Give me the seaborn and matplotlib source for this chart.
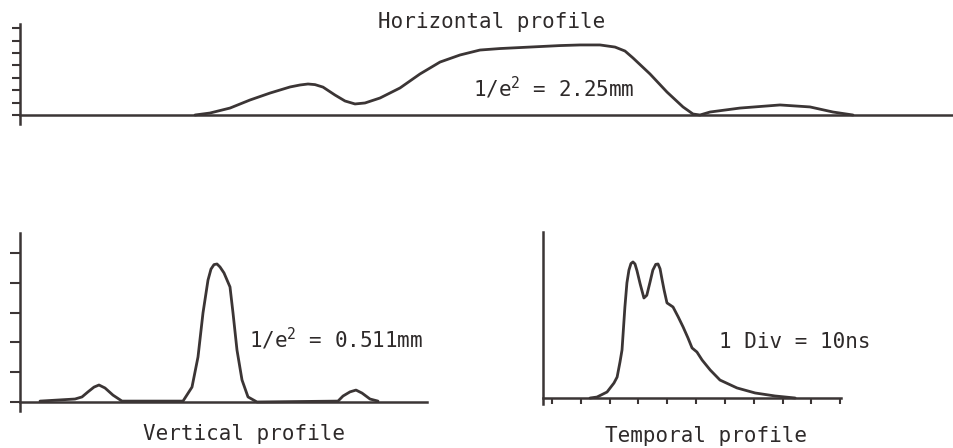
import matplotlib
matplotlib.use("Agg")
import matplotlib.pyplot as plt
import seaborn as sns

# horizontal profile (x in 0.1 div, y in tick units)
horiz_x = [17.5, 19.0, 21.0, 23.0, 25.0, 27.0, 28.0, 28.8, 29.5, 30.3, 31.5, 32.5,
           33.5, 34.5, 36.0, 38.0, 40.0, 42.0, 44.0, 46.0, 48.0, 50.0, 52.0, 54.0,
           56.0, 58.0, 59.5, 60.5, 61.3, 63.0, 64.7, 66.3, 67.3, 68.0, 69.0, 72.0,
           76.0, 79.0, 81.3, 83.3]
horiz_y = [0.0, 0.16, 0.56, 1.21, 1.77, 2.26, 2.42, 2.50, 2.45, 2.25, 1.61, 1.13,
           0.89, 0.97, 1.37, 2.18, 3.31, 4.27, 4.84, 5.24, 5.36, 5.44, 5.52, 5.60,
           5.65, 5.65, 5.48, 5.16, 4.60, 3.31, 1.85, 0.65, 0.08, 0.0, 0.24, 0.56,
           0.81, 0.65, 0.24, 0.0]

# vertical profile
vert_x = [2.0, 4.0, 5.5, 6.2, 6.8, 7.4, 7.9, 8.5, 9.3, 10.2, 16.3, 17.2, 17.8,
          18.3, 18.8, 19.1, 19.4, 19.7, 20.0, 20.4, 21.0, 21.3, 21.7, 22.2, 22.8,
          23.7, 31.8, 32.3, 33.0, 33.6, 34.2, 35.0, 35.8]
vert_y = [0.03, 0.07, 0.10, 0.17, 0.34, 0.50, 0.57, 0.47, 0.23, 0.03, 0.03, 0.50,
          1.51, 2.99, 4.09, 4.46, 4.61, 4.63, 4.53, 4.33, 3.86, 2.99, 1.74, 0.74,
          0.17, 0.0, 0.03, 0.20, 0.34, 0.40, 0.30, 0.10, 0.03]

# temporal profile (x in divisions of 10 ns)
temp_x = [1.32, 1.56, 1.91, 2.15, 2.26, 2.36, 2.43, 2.53, 2.60, 2.67, 2.74, 2.81,
          2.88, 2.95, 3.06, 3.19, 3.29, 3.40, 3.50, 3.60, 3.68, 3.75, 3.82, 3.89,
          3.99, 4.20, 4.38, 4.55, 4.72, 4.86, 5.03, 5.21, 5.49, 5.83, 6.42, 7.05,
          7.74, 8.44]
temp_y = [0.0, 0.07, 0.44, 1.10, 1.54, 2.65, 3.53, 6.69, 8.46, 9.40, 9.88, 10.0,
          9.85, 9.35, 8.38, 7.35, 7.55, 8.50, 9.40, 9.82, 9.85, 9.50, 8.70, 7.94,
          6.99, 6.69, 5.96, 5.22, 4.41, 3.68, 3.38, 2.79, 2.06, 1.32, 0.74, 0.37,
          0.15, 0.0]

horiz_ticks = list(range(8))
vert_ticks = list(range(6))
temp_ticks = list(range(11))

sns.set_style("white")
plt.rcParams["font.family"] = ["DejaVu Sans Mono"]
plt.rcParams["mathtext.default"] = "regular"

ink = "#3b3535"
W, H = 954, 448
fig = plt.figure(figsize=(W / 100, H / 100), dpi=100)


def px_axes(l, t, r, b):
    return fig.add_axes([l / W, 1 - b / H, (r - l) / W, (b - t) / H])


def style(ax, xticks, yticks, tick_len):
    sns.despine(ax=ax)
    ax.set_facecolor("none")
    ax.spines["bottom"].set_position(("data", 0))
    for s in ("left", "bottom"):
        ax.spines[s].set_color(ink)
        ax.spines[s].set_linewidth(1.8)
    ax.set_xticks(xticks)
    ax.set_yticks(yticks)
    ax.tick_params(direction="out", length=tick_len, width=1.5, color=ink,
                   left=True, bottom=True, labelbottom=False, labelleft=False)
    ax.set_xlabel("")
    ax.set_ylabel("")


line_kw = dict(color=ink, linewidth=2.0, solid_joinstyle="round", solid_capstyle="round")

# top panel
ax1 = px_axes(20, 24, 954, 124)
sns.lineplot(x=horiz_x, y=horiz_y, ax=ax1, **line_kw)
ax1.set_xlim(0, 93.4)
ax1.set_ylim(-0.726, 7.34)
style(ax1, [], horiz_ticks, 6)

# bottom left
ax2 = px_axes(20, 233, 427, 411)
sns.lineplot(x=vert_x, y=vert_y, ax=ax2, **line_kw)
ax2.set_xlim(0, 40.7)
ax2.set_ylim(-0.302, 5.67)
style(ax2, [], vert_ticks, 7)

# bottom right
ax3 = px_axes(543, 232, 841, 404)
sns.lineplot(x=temp_x, y=temp_y, ax=ax3, **line_kw)
ax3.set_xlim(-0.3125, 10.03)
ax3.set_ylim(-0.44, 12.2)
style(ax3, temp_ticks, [], 4.5)

txt = dict(color="#2e2a2a", fontsize=15, va="baseline", ha="left")
fig.text(378 / W, 1 - 28 / H, "Horizontal profile", **txt)
fig.text(473 / W, 1 - 97 / H, "1/e$^{2}$ = 2.25mm", **txt)
fig.text(249 / W, 1 - 348 / H, "1/e$^{2}$ = 0.511mm", **txt)
fig.text(719 / W, 1 - 348 / H, "1 Div = 10ns", **txt)
fig.text(143 / W, 1 - 440 / H, "Vertical profile", **txt)
fig.text(605 / W, 1 - 442 / H, "Temporal profile", **txt)

fig.savefig("out.png", dpi=100, facecolor="white")
